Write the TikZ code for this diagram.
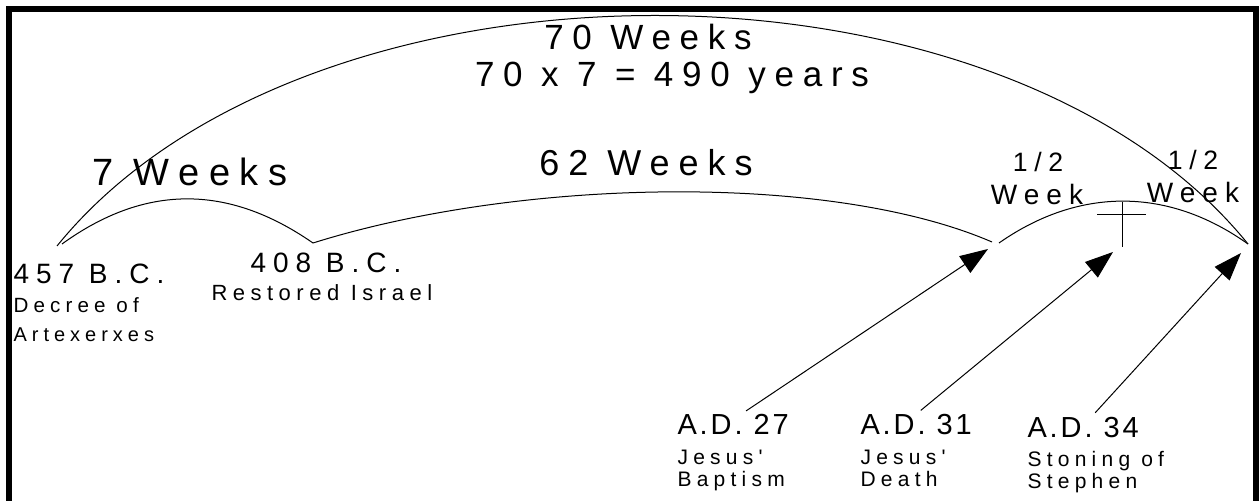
\documentclass[tikz,border=0pt]{standalone}
\usepackage{fontspec}
\usepackage{tikz}
\usetikzlibrary{arrows.meta}
\setmainfont{Liberation Sans}
\newfontfamily\spacedfont[LetterSpace=25]{Liberation Sans}
\newfontfamily\tightfont[LetterSpace=10]{Liberation Sans}

\tikzset{
  title/.style={font=\spacedfont\fontsize{#1}{#1}\selectfont, anchor=base, inner sep=0pt},
  lab/.style={font=\spacedfont\fontsize{#1}{#1}\selectfont, anchor=base west, inner sep=0pt},
  adlab/.style={font=\tightfont\fontsize{14.5}{14.5}\selectfont, anchor=base west, inner sep=0pt},
  pointer/.style={-{Triangle[length=14pt,width=10pt]}, line width=0.5pt, shorten <=3pt}
}

\begin{document}
\begin{tikzpicture}[x=0.5pt,y=-0.5pt,line width=0.5pt]
    \useasboundingbox (0,0) rectangle (1259,501);
    % frame, open at the bottom
    \draw[line width=3pt] (9,501) -- (9,9) -- (1256,9) -- (1256,501);

    % points on the time line
    \coordinate (start70) at (57,246);
    \coordinate (bc457) at (62,244);
    \coordinate (bc408) at (313,243);
    \coordinate (end62) at (992,242);
    \coordinate (ad27) at (999,243);
    \coordinate (ad34) at (1248,244);
    \coordinate (tip27) at (988,249);
    \coordinate (tip31) at (1113,252);
    \coordinate (tip34) at (1241,253);

    % arcs
    \draw (start70) .. controls (305,-60) and (1000,-62) .. (ad34);
    \draw (bc457) .. controls (145,184) and (228,184) .. (bc408);
    \draw (bc408) .. controls (520,178) and (830,172) .. (end62);
    \draw (ad27) .. controls (1079,187) and (1168,187) .. (ad34);

    % cross
    \draw (1122,202) -- (1122,247);
    \draw (1097,215) -- (1146,215);

    % week labels
    \node[title=17.5] (w70) at (648,50) {70 Weeks};
    \node[title=17.5] (w490) at (672,87) {70 x 7 = 490 years};
    \node[title=19] (w7) at (190,186) {7 Weeks};
    \node[title=18] (w62) at (646,176) {62 Weeks};
    \node[title=13.3] (half1) at (1038,172) {1/2};
    \node[title=14] (week1) at (1037,205) {Week};
    \node[title=13.3] (half2) at (1193,170) {1/2};
    \node[title=14] (week2) at (1193,203) {Week};

    % dates
    \node[lab=14] (d457) at (13,284) {457 B.C.};
    \node[lab=10.3] (d457a) at (13,313) {Decree of};
    \node[lab=10] (d457b) at (13,342) {Artexerxes};
    \node[lab=14] (d408) at (250,273) {408 B.C.};
    \node[lab=11] (d408a) at (211,301) {Restored Israel};

    \node[adlab] (a27) at (677,435) {A.D. 27};
    \node[lab=10.5] (a27a) at (677,465) {Jesus'};
    \node[lab=10.5] (a27b) at (677,487) {Baptism};
    \node[adlab] (a31) at (860,435) {A.D. 31};
    \node[lab=10.5] (a31a) at (860,465) {Jesus'};
    \node[lab=10.5] (a31b) at (860,487) {Death};
    \node[adlab] (a34) at (1027,438) {A.D. 34};
    \node[lab=10.5] (a34a) at (1027,467) {Stoning of};
    \node[lab=10.5] (a34b) at (1027,489) {Stephen};

    % pointers
    \draw[pointer] ([xshift=4pt]a27.north) -- (tip27);
    \draw[pointer] (a31.north) -- (tip31);
    \draw[pointer] ([xshift=4pt]a34.north) -- (tip34);
\end{tikzpicture}
\end{document}
